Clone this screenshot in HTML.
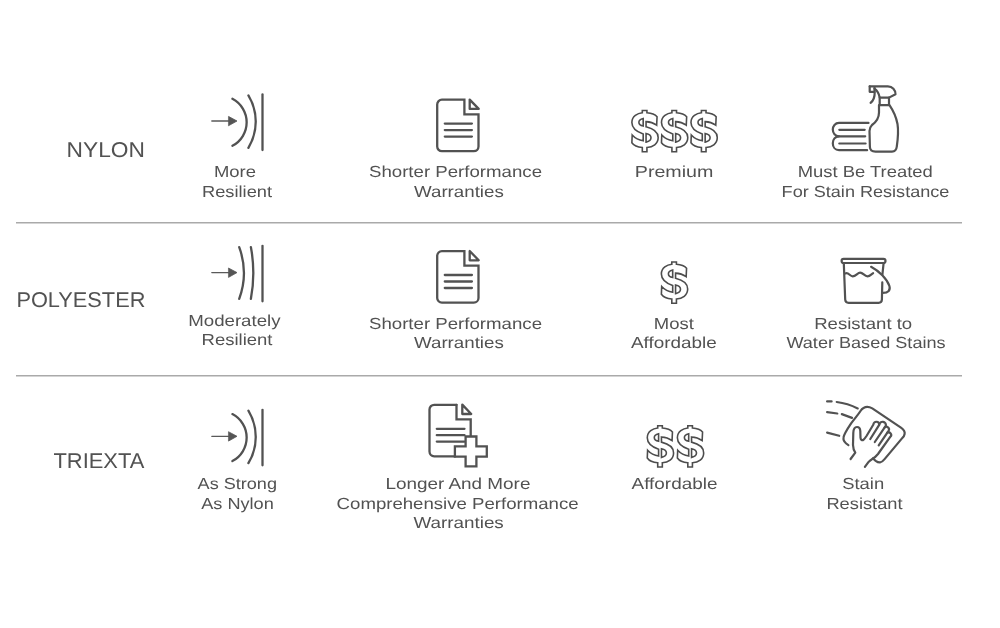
<!DOCTYPE html>
<html><head><meta charset="utf-8">
<style>
html,body{margin:0;padding:0;background:#fff;width:1000px;height:628px;overflow:hidden;}
svg{display:block;will-change:transform;}
text{font-family:"Liberation Sans",sans-serif;fill:#525252;text-rendering:geometricPrecision;}
.ic{fill:none;stroke:#525252;stroke-width:2;stroke-linecap:round;stroke-linejoin:round;}
</style></head>
<body>
<svg width="1000" height="628" viewBox="0 0 1000 628">
<rect width="1000" height="628" fill="#fff"/>
<line x1="16" y1="222.7" x2="962" y2="222.7" stroke="#aaa" stroke-width="1.6"/>
<line x1="16" y1="375.8" x2="962" y2="375.8" stroke="#aaa" stroke-width="1.6"/>
<text x="66.60" y="157.00" font-size="21.4" textLength="78.40" lengthAdjust="spacingAndGlyphs">NYLON</text>
<text x="16.40" y="306.60" font-size="21.4" textLength="129.00" lengthAdjust="spacingAndGlyphs">POLYESTER</text>
<text x="53.40" y="468.00" font-size="21.4" textLength="91.00" lengthAdjust="spacingAndGlyphs">TRIEXTA</text>
<text x="214.00" y="177.00" font-size="16.0" textLength="42.00" lengthAdjust="spacingAndGlyphs">More</text>
<text x="202.00" y="197.00" font-size="16.0" textLength="70.00" lengthAdjust="spacingAndGlyphs">Resilient</text>
<text x="369.00" y="177.00" font-size="16.0" textLength="173.00" lengthAdjust="spacingAndGlyphs">Shorter Performance</text>
<text x="414.00" y="197.00" font-size="16.0" textLength="89.80" lengthAdjust="spacingAndGlyphs">Warranties</text>
<text x="634.80" y="177.00" font-size="16.0" textLength="78.60" lengthAdjust="spacingAndGlyphs">Premium</text>
<text x="797.80" y="177.00" font-size="16.0" textLength="135.00" lengthAdjust="spacingAndGlyphs">Must Be Treated</text>
<text x="781.60" y="197.00" font-size="16.0" textLength="167.80" lengthAdjust="spacingAndGlyphs">For Stain Resistance</text>
<text x="188.20" y="326.00" font-size="16.0" textLength="92.40" lengthAdjust="spacingAndGlyphs">Moderately</text>
<text x="201.60" y="345.00" font-size="16.0" textLength="70.80" lengthAdjust="spacingAndGlyphs">Resilient</text>
<text x="369.00" y="329.00" font-size="16.0" textLength="173.00" lengthAdjust="spacingAndGlyphs">Shorter Performance</text>
<text x="414.00" y="348.00" font-size="16.0" textLength="89.80" lengthAdjust="spacingAndGlyphs">Warranties</text>
<text x="653.80" y="329.00" font-size="16.0" textLength="40.00" lengthAdjust="spacingAndGlyphs">Most</text>
<text x="631.00" y="348.00" font-size="16.0" textLength="85.80" lengthAdjust="spacingAndGlyphs">Affordable</text>
<text x="814.20" y="329.00" font-size="16.0" textLength="98.00" lengthAdjust="spacingAndGlyphs">Resistant to</text>
<text x="786.40" y="348.00" font-size="16.0" textLength="159.20" lengthAdjust="spacingAndGlyphs">Water Based Stains</text>
<text x="197.60" y="489.00" font-size="16.0" textLength="79.40" lengthAdjust="spacingAndGlyphs">As Strong</text>
<text x="201.20" y="509.00" font-size="16.0" textLength="72.60" lengthAdjust="spacingAndGlyphs">As Nylon</text>
<text x="385.40" y="489.00" font-size="16.0" textLength="145.00" lengthAdjust="spacingAndGlyphs">Longer And More</text>
<text x="336.60" y="509.00" font-size="16.0" textLength="242.00" lengthAdjust="spacingAndGlyphs">Comprehensive Performance</text>
<text x="413.40" y="528.00" font-size="16.0" textLength="90.40" lengthAdjust="spacingAndGlyphs">Warranties</text>
<text x="631.60" y="489.00" font-size="16.0" textLength="85.80" lengthAdjust="spacingAndGlyphs">Affordable</text>
<text x="842.20" y="489.00" font-size="16.0" textLength="42.00" lengthAdjust="spacingAndGlyphs">Stain</text>
<text x="826.40" y="509.00" font-size="16.0" textLength="76.20" lengthAdjust="spacingAndGlyphs">Resistant</text>
<g class="ic">
<!-- resilient row1 -->
<path d="M211.8,121 L229,121" stroke-width="1.3" stroke="#5a5a5a"/>
<path d="M228.8,116.6 L237,121 L228.8,125.6 Z" fill="#555" stroke="#555" stroke-width="0.8"/>
<path d="M232.4,98.8 A26.5,26.5 0 0 1 232.4,145.8" stroke-width="2.3"/>
<path d="M248.4,95.4 A50.4,50.4 0 0 1 248.4,147.8" stroke-width="2.3"/>
<path d="M262.5,94.5 L262.5,150" stroke-width="2.3"/>
<!-- resilient row3 -->
<g transform="translate(0,315.3)">
<path d="M211.8,121 L229,121" stroke-width="1.3" stroke="#5a5a5a"/>
<path d="M228.8,116.6 L237,121 L228.8,125.6 Z" fill="#555" stroke="#555" stroke-width="0.8"/>
<path d="M232.4,98.8 A26.5,26.5 0 0 1 232.4,145.8" stroke-width="2.3"/>
<path d="M248.4,95.4 A50.4,50.4 0 0 1 248.4,147.8" stroke-width="2.3"/>
<path d="M262.5,94.5 L262.5,150" stroke-width="2.3"/>
</g>
<!-- moderately resilient row2 -->
<path d="M211.8,272.6 L229,272.6" stroke-width="1.3" stroke="#5a5a5a"/>
<path d="M228.8,268.2 L237,272.6 L228.8,277.2 Z" fill="#555" stroke="#555" stroke-width="0.8"/>
<path d="M239.2,247.2 A74.5,74.5 0 0 1 239.2,298.8" stroke-width="2.3"/>
<path d="M250.9,247.2 A139.6,139.6 0 0 1 250.9,298.8" stroke-width="2.3"/>
<path d="M262.5,245.8 L262.5,301.3" stroke-width="2.3"/>
<!-- document row1 -->
<g id="doc" stroke-width="2.3">
<path d="M464.4,99.7 H441.9 A4.7,4.7 0 0 0 437.2,104.4 V146.5 A4.7,4.7 0 0 0 441.9,151.2 H473.8 A4.7,4.7 0 0 0 478.5,146.5 V114.3 H464.4 Z" stroke-linejoin="miter"/>
<path d="M469.7,99.6 V108.9 H478.7 Z"/>
<path d="M444.8,123.6 H471.9 M444.8,130.1 H471.9 M444.8,136.6 H471.9"/>
</g>
<use href="#doc" transform="translate(0,151.4)"/>
<!-- doc plus row3 -->
<g stroke-width="2.3">
<path d="M456.5,404.8 H434.2 A4.7,4.7 0 0 0 429.5,409.5 V451.6 A4.7,4.7 0 0 0 434.2,456.3 H455.5" stroke-linejoin="miter"/>
<path d="M456.5,404.8 V419.3 H470.7 V437" stroke-linejoin="miter"/>
<path d="M462.3,404.6 V414 H471.2 Z"/>
<path d="M436.8,428.8 H464.5 M436.8,435.2 H464.5 M436.8,441.6 H464.5"/>
<path d="M465.6,436.5 H476.4 V446.3 H486.8 V456.6 H476.4 V466.4 H465.6 V456.6 H454.9 V446.3 H465.6 Z" stroke-linejoin="miter" fill="#fff"/>
</g>
<!-- spray bottle + towels row1 -->
<g stroke-width="2.2">
<path d="M869.7,86.4 H887.9 C892.5,86.4 895.5,90 895.5,94.2 L889,97.6 H879.7 C879,93.5 877.5,90.8 874.5,88.6"/>
<path d="M869.7,86.4 V91.8 H874.5 V87.5"/>
<path d="M874.7,92.2 C874.8,97 873.5,100.5 870.6,102.9"/>
<path d="M879.7,97.6 V105.1 H889 V97.6"/>
<path d="M879,105.1 V112.4 C879,119 876,122 872,125 C870,127 869.5,129 869.5,131 L869.9,147 C870,150 872,151.6 875.5,151.6 H892 C895,151.6 896.5,149.5 896.8,146.5 C898,138 898.5,130 897.5,124 C896.3,117.5 893.5,111 889.5,105.1"/>
<path d="M868.5,122.9 H839 C835.2,122.9 832.8,126 832.8,129.6 C832.8,133.2 835.2,136.3 839,136.3 H865.2"/>
<path d="M839,136.3 C835.2,136.3 832.8,139.5 832.8,143.2 C832.8,147 835.2,150.2 839,150.2 H867.1"/>
<path d="M839.3,129.8 H864.7 M839.3,143.5 H865.6"/>
</g>
<!-- bucket row2 -->
<g stroke-width="2.2">
<rect x="841.6" y="258.9" width="43.9" height="4.1" rx="2"/>
<path d="M843.8,263.2 L845.2,299.5 Q845.4,302.8 848.6,302.8 H878.6 Q881.8,302.8 881.9,299.5 L882.3,282.4"/>
<path d="M883.6,263.2 L882.4,274.7"/>
<path d="M871.1,266.8 C879,271 887,279 889.4,286 C890.6,290 888.5,292.8 882.9,292.9"/>
<path d="M845.4,273.4 C848.5,272 850,276.3 852.6,276.3 C856,276.3 857.5,272.6 860.2,272.6 C863,272.6 864.5,276.3 867.4,276.3 C870,276.3 871.5,274 873.1,273.2"/>
</g>
<!-- hand row3 -->
<g stroke-width="2.2">
<path d="M848.4,445.1 C845,443 843,440.5 843.5,437.5 C844,434 847,429.5 851.1,423.4 C855,418 858,415 860.5,411 C862.5,408 864.5,406.9 867.3,406.9 C869,406.9 870.5,407.4 872.3,408.4 L901.3,427.9 C904,429.8 905,432 904.6,434 C904.2,436 903.5,437 902.4,437.9 L884.6,459.1 C883,461 881.7,462.3 880.1,462.4 C878.5,462.5 877,461.8 875.7,460.8 L872.9,458.5"/>
<path d="M850.6,459 L855.3,452.6 C853.8,450.5 853.1,448 853,445 L853.3,433 C853.4,429.5 854.8,427 857,427 C859.3,427 860.2,428.8 860.3,431 L860.5,437.8 C860.6,440 862.2,440.8 863.6,439.6 C864.5,438.8 865.5,437.5 866.5,436 L873.4,424.5 A2.9,2.9 0 0 1 879.2,424.8 L870.3,439"/>
<path d="M879.3,424.6 A3.3,3.3 0 0 1 885.9,425.6 L874.8,442"/>
<path d="M884.6,427.5 A2.6,2.6 0 0 1 888.7,430.6 L878.7,445.4"/>
<path d="M887.3,432.7 A2.55,2.55 0 0 1 890.4,436.7 L878,454 C876,456.5 874.5,457.8 872.3,459 C870.5,460 869.3,461 868.4,462.2 L864.9,466.9"/>
<path d="M827.1,401.4 H831.6 M836.7,402 C845,403 852,405.5 857.7,408.4 M827.1,412.2 L837.3,413.5 M841.8,414.1 L852,417.9 M827.1,432.6 L839.2,435.8"/>
</g>
</g>
<defs><path id="dl" d="M211,50 H269 V78 C322,82 372,100 396,128 L391,235 C352,207 302,192 258,190 V255 C340,275 410,312 410,390 C410,470 342,510 269,514 V568 H211 V514 C150,510 102,487 80,455 L84,358 C122,400 180,425 222,430 V345 C152,320 80,282 80,200 C80,122 152,84 211,78 Z M222,150 C184,158 168,180 168,197 C168,215 184,238 222,245 Z M258,338 C298,346 320,368 320,392 C320,417 298,438 258,447 Z"/></defs>
<g fill="none" stroke="#4d4d4d" stroke-width="20" stroke-linejoin="miter">
<use href="#dl" transform="translate(625.5,106.5) scale(0.07968)"/>
<use href="#dl" transform="translate(655.1,106.5) scale(0.07968)"/>
<use href="#dl" transform="translate(684.6,106.5) scale(0.07968)"/>
<use href="#dl" transform="translate(655,258) scale(0.07968)"/>
<use href="#dl" transform="translate(640.9,421.8) scale(0.07968)"/>
<use href="#dl" transform="translate(671,421.8) scale(0.07968)"/>
</g>

</svg>
</body></html>
